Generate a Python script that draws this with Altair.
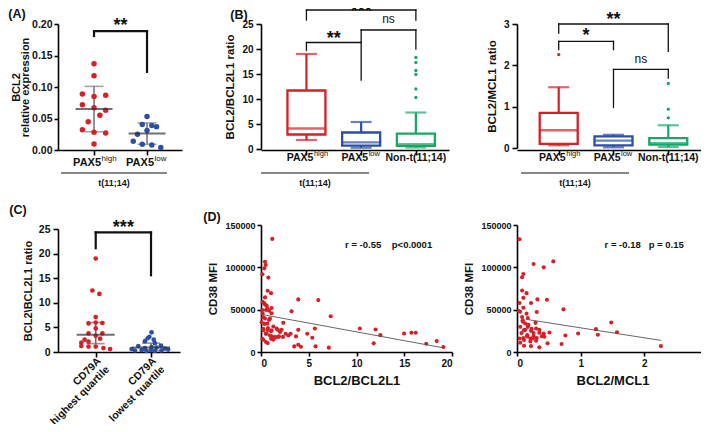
import altair as alt
import pandas as pd

FONT = "Liberation Sans"
RED = "#d71f28"
BLUE = "#2a4fa3"
GREEN = "#17a866"
INK = "#111111"

# ---------------- Panel A data ----------------
a_groups = ["PAX5 high", "PAX5 low"]
a_high = [0.137, 0.118, 0.089, 0.085, 0.087, 0.072, 0.067, 0.063, 0.055, 0.045, 0.032, 0.028, 0.027, 0.0095]
a_high_jitter = [0, 0, -0.22, 0, 0.22, -0.22, 0, 0.22, 0.11, -0.11, -0.22, 0, 0.22, 0]
a_low = [0.053, 0.0405, 0.039, 0.037, 0.031, 0.025, 0.014, 0.009, 0.008, 0.004]
a_low_jitter = [0, -0.09, 0.09, 0.18, 0, -0.18, -0.26, -0.09, 0.09, 0.26]
a_mid = [0.065, 0.026]
a_lo = [0.029, 0.009]
a_hi = [0.101, 0.043]
a_br_x1, a_br_x2 = [1], [2]
a_br_top, a_br_leg1, a_br_leg2 = [0.1886], [0.181], [0.124]
a_br_text, a_br_texty = ["**"], [0.2048]

# ---------------- Panel B data ----------------
b_groups = ["PAX5 high", "PAX5 low", "Non-t(11;14)"]
b1_lo = [1.8, 0.25, 0.3]
b1_q1 = [2.9, 0.67, 0.62]
b1_med = [4.1, 1.33, 0.95]
b1_q3 = [11.7, 3.3, 3.07]
b1_hi = [19.0, 5.4, 7.3]
b1_out_grp = [3, 3, 3, 3, 3, 3]
b1_out_val = [18.3, 17.3, 15.7, 14.9, 12.0, 10.3]
b1_br_x1, b1_br_x2 = [1, 1, 2], [3, 2, 3]
b1_br_top = [27.8, 21.3, 23.8]
b1_br_leg1 = [25.8, 19.7, 21.5]
b1_br_leg2 = [25.8, 13.8, 20.0]
b1_br_text = ["***", "**", "ns"]
b1_br_texty = [28.5, 23.1, 25.8]

b2_lo = [0.065, 0.016, 0.024]
b2_q1 = [0.10, 0.065, 0.08]
b2_med = [0.43, 0.18, 0.12]
b2_q3 = [0.85, 0.28, 0.24]
b2_hi = [1.47, 0.32, 0.55]
b2_out_grp = [1, 3, 3, 3]
b2_out_val = [2.26, 1.56, 0.94, 0.73]
b2_br_x1, b2_br_x2 = [1, 1, 2], [3, 2, 3]
b2_br_top = [3.0, 2.58, 1.9]
b2_br_leg1 = [2.78, 2.38, 0.98]
b2_br_leg2 = [2.34, 2.38, 1.69]
b2_br_text = ["**", "*", "ns"]
b2_br_texty = [3.22, 2.82, 2.12]

# ---------------- Panel C data ----------------
c_groups = ["CD79A highest quartile", "CD79A lowest quartile"]
c_high = [19.0, 12.5, 11.8, 7.1, 6.0, 5.8, 5.9, 4.8, 3.8, 3.8, 3.3, 2.7, 2.5, 2.1, 1.9, 1.1, 1.1, 0.8, 0.6, 1.2]
c_high_jitter = [0, -0.06, 0.066, 0, 0, -0.13, 0.12, 0, -0.13, 0.12, 0, 0.08, -0.2, -0.13, -0.26, -0.13, 0, 0.14, 0.26, -0.26]
c_low = [4.0, 3.1, 2.8, 2.5, 2.2, 1.8, 1.3, 1.2, 0.9, 0.8, 0.6, 0.5, 0.4, 0.4, 0.3, 0.3, 0.2, 0.2, 0.7, 1.0]
c_low_jitter = [0.01, -0.03, -0.06, 0.05, -0.11, 0.07, 0.18, -0.23, 0.1, -0.11, -0.35, 0.31, 0, -0.17, 0.19, -0.29, 0.07, -0.08, 0.25, 0.01]
c_mid = [3.5, 0.93]
c_lo = [1.7, 0.27]
c_hi = [6.0, 1.8]
c_br_x1, c_br_x2 = [1], [2]
c_br_top, c_br_leg1, c_br_leg2 = [24.3], [21.1], [15.6]
c_br_text, c_br_texty = ["***"], [26.3]

# ---------------- Panel D data ----------------
d1_x = [1.18, 0.42, 0.49, 0.35, 0.14, 0.77, 0.70, 1.05, 3.9, 6.0, 0.42, 0.35, 0.6, 1.11, 0.14, 0.52, 0.84, 3.2,
        1.11, 7.3, 0.24, 0.84, 0.07, 2.33, 1.29, 0.24, 1.74, 2.16, 3.9, 5.64, 10.35, 12.0, 0.70, 1.05, 2.58, 2.86,
        3.1, 3.66, 4.84, 5.37, 12.5, 14.98, 15.75, 16.2, 1.11, 1.46, 1.88, 0.24, 0.70, 1.05, 1.29, 3.48, 3.9, 4.18,
        5.71, 7.1, 11.8, 17.3, 18.4, 19.1, 0.14, 0.49, 0.35, 0.94,
        0.17, 0.42, 0.66, 0.17, 0.42, 0.66, 0.94, 1.1, 1.46, 0.59, 1.64, 1.99, 1.8, 2.3, 0.24, 0.52, 0.73]
d1_y = [133600, 106600, 102700, 98800, 91800, 87900, 72300, 69500, 62100, 61300, 64500, 57400, 54700, 52000,
        49600, 49600, 48800, 48000, 45700, 42200, 41000, 37900, 35200, 34400, 30100, 27300, 26200, 26200, 26200,
        27700, 27700, 26600, 26200, 24600, 21500, 19500, 21500, 18400, 21500, 16800, 19900, 21900, 22700, 22700,
        18400, 16800, 18400, 14500, 10500, 15600, 14500, 6600, 8600, 6200, 6600, 5100, 10200, 9800, 12900, 5900,
        15600, 21500, 33200, 19500,
        59200, 56000, 51300, 45400, 39500, 33500, 39500, 25700, 17800, 21700, 27600, 23700, 17800, 17800, 25700,
        11800, 28400]
d1_fit_x = [0, 19.1]
d1_fit_y = [44500, 4900]
d1_note = "r = -0.55\u00a0\u00a0\u00a0\u00a0p<0.0001"

d2_x = [0.04, 0.26, 0.57, 0.42, 0.10, 0.08, 0.08, 0.15, 0.10, 0.47, 0.32, 0.22, 0.04, 0.73, 0.10, 0.03, 0.31,
        0.15, 0.08, 0.17, 0.09, 0.29, 1.48, 1.24, 1.57, 1.27, 0.96, 0.76, 0.51, 0.42, 0.30, 0.22, 0.11, 0.05,
        0.16, 0.26, 0.35, 0.43, 0.04, 0.11, 0.21, 0.30, 0.39, 0.48, 0.70, 0.35, 0.22, 0.11, 2.26, 0.05, 0.17,
        0.25, 0.13,
        0.05, 0.09, 0.13, 0.16, 0.21, 0.26, 0.31, 0.10, 0.18, 0.23, 0.07, 0.35]
d2_y = [133200, 103900, 107000, 100000, 92200, 88300, 72700, 69500, 64000, 61700, 62100, 57800, 57800, 50400,
        52300, 48400, 47300, 45300, 41400, 40200, 37500, 34400, 34800, 27000, 23400, 20300, 21900, 19500, 23000,
        21900, 27700, 25000, 25800, 29700, 19900, 18700, 22700, 18000, 16000, 14100, 16000, 13300, 18700, 10200,
        9400, 5500, 7000, 7400, 7000, 10900, 29700, 16000, 33600,
        47600, 35900, 26200, 18400, 12500, 22300, 16400, 16400, 32000, 27300, 22300, 26200]
d2_fit_x = [0.15, 2.26]
d2_fit_y = [38500, 13700]
d2_note = "r = -0.18\u00a0\u00a0\u00a0p = 0.15"


# ---------------- helpers ----------------
def enc_factory(channel, scale, axis):
    def f(field):
        return channel(f"{field}:Q", scale=scale, axis=axis)
    return f


def cat_scale(domain, rng=None):
    kw = dict(domain=domain, nice=False, zero=False)
    if rng is not None:
        kw["range"] = rng
    return alt.Scale(**kw)


def cat_axis(vals):
    return alt.Axis(values=vals, labels=False, title=None, ticks=True, tickSize=5, grid=False)


def val_axis(vals, fmt, title, title_size=12, label_size=11, title_pad=4, label_pad=3, tick_size=5, line_h=None):
    kw = dict(values=vals, format=fmt, title=title, titleFontSize=title_size, labelFontSize=label_size,
              titlePadding=title_pad, labelPadding=label_pad, tickSize=tick_size, grid=False)
    if line_h is not None:
        kw["titleLineHeight"] = line_h
    return alt.Axis(**kw)


def dots(groups, vals, jits, colors, X, Y, size):
    rows = []
    for i, (g, vs, js) in enumerate(zip(groups, vals, jits)):
        for v, j in zip(vs, js):
            rows.append({"x": i + 1 + j, "y": v, "g": g})
    return alt.Chart(pd.DataFrame(rows)).mark_circle(size=size, opacity=1).encode(
        x=X("x"), y=Y("y"),
        color=alt.Color("g:N", scale=alt.Scale(domain=groups, range=colors), legend=None))


def mean_sd(n, mid, lo, hi, X, Y, sd_color, mean_color, mean_w, cap_w):
    st = pd.DataFrame({"x": list(range(1, n + 1)), "mid": mid, "lo": lo, "hi": hi})
    base = alt.Chart(st)
    return [
        base.mark_rule(color=sd_color, strokeWidth=1.6).encode(x=X("x"), y=Y("lo"), y2=alt.Y2("hi")),
        base.mark_tick(orient="horizontal", size=cap_w, thickness=1.6, color=sd_color).encode(x=X("x"), y=Y("lo")),
        base.mark_tick(orient="horizontal", size=cap_w, thickness=1.6, color=sd_color).encode(x=X("x"), y=Y("hi")),
        base.mark_tick(orient="horizontal", size=mean_w, thickness=2, color=mean_color).encode(x=X("x"), y=Y("mid")),
    ]


def brackets(x1s, x2s, tops, leg1s, leg2s, texts, textys, X, Y, lw, star_size=18):
    segs = []
    for a, b, t, l1, l2 in zip(x1s, x2s, tops, leg1s, leg2s):
        segs.append({"x": a, "x2": b, "y": t, "y2": t})
        segs.append({"x": a, "x2": a, "y": l1, "y2": t})
        segs.append({"x": b, "x2": b, "y": l2, "y2": t})
    layers = [alt.Chart(pd.DataFrame(segs)).mark_rule(color=INK, strokeWidth=lw, strokeCap="square").encode(
        x=X("x"), x2=alt.X2("x2"), y=Y("y"), y2=alt.Y2("y2"))]
    lab = pd.DataFrame({"x": [(a + b) / 2 for a, b in zip(x1s, x2s)], "y": textys, "t": texts})
    stars = lab[lab.t != "ns"]
    ns = lab[lab.t == "ns"]
    if len(stars):
        layers.append(alt.Chart(stars).mark_text(fontSize=star_size, fontWeight="bold", baseline="alphabetic",
                                                 dy=10, color=INK).encode(x=X("x"), y=Y("y"), text="t:N"))
    if len(ns):
        layers.append(alt.Chart(ns).mark_text(fontSize=12, baseline="alphabetic", dy=3, color=INK).encode(
            x=X("x"), y=Y("y"), text="t:N"))
    return layers


def letter(t, x, y):
    return alt.Chart(pd.DataFrame({"t": [t]})).mark_text(fontSize=12.5, fontWeight="bold", align="center",
                                                          baseline="middle", color=INK).encode(
        x=alt.value(x), y=alt.value(y), text="t:N")


def pax_labels(X, y_main, y_sup, main_size, sup_size, dx, with_non=False):
    df = pd.DataFrame({"x": [1, 2], "m": ["PAX5", "PAX5"], "s": ["high", "low"]})
    layers = [
        alt.Chart(df).mark_text(align="right", baseline="middle", dx=dx, fontSize=main_size, fontWeight="bold",
                                color=INK).encode(x=X("x"), y=alt.value(y_main), text="m:N"),
        alt.Chart(df).mark_text(align="left", baseline="middle", dx=dx + 0.5, fontSize=sup_size, color=INK).encode(
            x=X("x"), y=alt.value(y_sup), text="s:N"),
    ]
    if with_non:
        layers.append(alt.Chart(pd.DataFrame({"x": [3], "m": ["Non-t(11;14)"]})).mark_text(
            align="center", baseline="middle", fontSize=main_size, fontWeight="bold", color=INK).encode(
            x=X("x"), y=alt.value(y_main), text="m:N"))
    return layers


def t1114(x_from, x_to, y_line, y_text):
    d = pd.DataFrame({"t": ["t(11;14)"]})
    return [
        alt.Chart(d).mark_rule(color=INK, strokeWidth=1.2).encode(x=alt.value(x_from), x2=alt.value(x_to),
                                                                   y=alt.value(y_line)),
        alt.Chart(d).mark_text(fontSize=9, fontWeight="bold", baseline="middle", align="center",
                               color=INK).encode(x=alt.value((x_from + x_to) / 2), y=alt.value(y_text), text="t:N"),
    ]


def boxes(n, colors, lo, q1, med, q3, hi, out_g, out_v, X, Y, bw, cw):
    groups = b_groups[:n]
    st = pd.DataFrame({"x": list(range(1, n + 1)), "g": groups, "lo": lo, "q1": q1, "med": med, "q3": q3, "hi": hi})
    col = alt.Color("g:N", scale=alt.Scale(domain=groups, range=colors), legend=None)
    stroke = alt.Stroke("g:N", scale=alt.Scale(domain=groups, range=colors), legend=None)
    base = alt.Chart(st)
    outs = pd.DataFrame({"x": out_g, "y": out_v, "g": [groups[k - 1] for k in out_g]})
    return [
        base.mark_rule(strokeWidth=2.2).encode(x=X("x"), y=Y("lo"), y2=alt.Y2("q1"), color=col),
        base.mark_rule(strokeWidth=2.2).encode(x=X("x"), y=Y("q3"), y2=alt.Y2("hi"), color=col),
        base.mark_bar(size=bw, fill="white", strokeWidth=2.3).encode(x=X("x"), y=Y("q1"), y2=alt.Y2("q3"),
                                                                   stroke=stroke),
        base.mark_tick(orient="horizontal", size=bw, thickness=2.3).encode(x=X("x"), y=Y("med"), color=col),
        base.mark_tick(orient="horizontal", size=cw, thickness=2.2).encode(x=X("x"), y=Y("lo"), color=col),
        base.mark_tick(orient="horizontal", size=cw, thickness=2.2).encode(x=X("x"), y=Y("hi"), color=col),
        alt.Chart(outs).mark_circle(size=11, opacity=1).encode(x=X("x"), y=Y("y"), color=col),
    ]


# ---------------- Panel A ----------------
XA = enc_factory(alt.X, cat_scale([0.32, 2.66], [0, 124]), cat_axis([1, 2]))
YA = enc_factory(alt.Y, alt.Scale(domain=[0, 0.2], nice=False),
                 val_axis([0, 0.05, 0.1, 0.15, 0.2], ".2f", ["BCL2", "relative expression"], title_size=11,
                          label_size=10.5, title_pad=1, label_pad=2, tick_size=4, line_h=9.5))
pA = alt.layer(
    *mean_sd(2, a_mid, a_lo, a_hi, XA, YA, "#7a7a7a", "#333333", 37, 19)[:3],
    dots(a_groups, [a_high, a_low], [a_high_jitter, a_low_jitter], [RED, BLUE], XA, YA, 30),
    mean_sd(2, a_mid, a_lo, a_hi, XA, YA, "#7a7a7a", "#333333", 37, 19)[3],
    *brackets(a_br_x1, a_br_x2, a_br_top, a_br_leg1, a_br_leg2, a_br_text, a_br_texty, XA, YA, 2.2),
    *pax_labels(XA, 139, 135, 11, 8, 7),
    *t1114(3, 109, 149, 159),
    letter("(A)", -41, -10),
).properties(width=136, height=126)

# ---------------- Panel B left ----------------
XB1 = enc_factory(alt.X, cat_scale([0.261, 3.514], [0, 188]), cat_axis([1, 2, 3]))
YB1 = enc_factory(alt.Y, alt.Scale(domain=[0, 25], nice=False, range=[125, 0]),
                  val_axis([0, 5, 10, 15, 20, 25], "d", "BCL2/BCL2L1 ratio", title_size=11.5, label_size=10,
                           title_pad=6))
pB1 = alt.layer(
    *boxes(3, [RED, BLUE, GREEN], b1_lo, b1_q1, b1_med, b1_q3, b1_hi, b1_out_grp, b1_out_val, XB1, YB1, 38, 21),
    *brackets(b1_br_x1, b1_br_x2, b1_br_top, b1_br_leg1, b1_br_leg2, b1_br_text, b1_br_texty, XB1, YB1, 1.3),
    *pax_labels(XB1, 134, 130, 10.5, 7.5, 7, with_non=True),
    *t1114(0, 108, 149, 159),
    letter("(B)", -22, -9),
).properties(width=193, height=126)

# ---------------- Panel B right ----------------
XB2 = enc_factory(alt.X, cat_scale([0.33, 3.652]), cat_axis([1, 2, 3]))
YB2 = enc_factory(alt.Y, alt.Scale(domain=[0, 3], nice=False, range=[124, 0]),
                  val_axis([0, 1, 2, 3], "d", "BCL2/MCL1 ratio", title_size=11.5, label_size=10, title_pad=6))
pB2 = alt.layer(
    *boxes(3, [RED, BLUE, GREEN], b2_lo, b2_q1, b2_med, b2_q3, b2_hi, b2_out_grp, b2_out_val, XB2, YB2, 38, 21),
    *brackets(b2_br_x1, b2_br_x2, b2_br_top, b2_br_leg1, b2_br_leg2, b2_br_text, b2_br_texty, XB2, YB2, 1.3),
    *pax_labels(XB2, 134, 130, 10.5, 7.5, 7, with_non=True),
    *t1114(4, 112, 149, 159),
).properties(width=192, height=126)

# ---------------- Panel C ----------------
XC = enc_factory(alt.X, cat_scale([0.318, 2.524], [0, 122]), cat_axis([1, 2]))
YC = enc_factory(alt.Y, alt.Scale(domain=[0, 25], nice=False, range=[127, 4]),
                 val_axis([0, 5, 10, 15, 20, 25], "d", "BCL2\\BCL2L1 ratio", title_size=11, label_size=10.5,
                          title_pad=5))
c_lab = pd.DataFrame({"x": [1, 2], "t": ["CD79A\nhighest quartile", "CD79A\nlowest quartile"]})
pC = alt.layer(
    *mean_sd(2, c_mid, c_lo, c_hi, XC, YC, "#6a6a6a", "#333333", 38, 18)[:3],
    dots(c_groups, [c_high, c_low], [c_high_jitter, c_low_jitter], [RED, BLUE], XC, YC, 22),
    mean_sd(2, c_mid, c_lo, c_hi, XC, YC, "#6a6a6a", "#333333", 38, 18)[3],
    *brackets(c_br_x1, c_br_x2, c_br_top, c_br_leg1, c_br_leg2, c_br_text, c_br_texty, XC, YC, 2.2),
    alt.Chart(c_lab).mark_text(angle=315, align="right", baseline="top", lineBreak="\n", fontSize=10.5,
                               fontWeight="bold", lineHeight=12, color=INK).encode(
        x=XC("x"), y=alt.value(131), text="t:N"),
    letter("(C)", -40, -15),
).properties(width=140, height=127)


# ---------------- Panel D ----------------
def scatter(xs, ys, fx, fy, xdom, xvals, xtitle, note, note_x, lx):
    X = enc_factory(alt.X, alt.Scale(domain=xdom, nice=False, zero=False),
                    alt.Axis(values=xvals, format="d", title=xtitle, titleFontSize=13, labelFontSize=10,
                             tickSize=4, titlePadding=6, labelPadding=2, grid=False))
    Y = enc_factory(alt.Y, alt.Scale(domain=[0, 150000], nice=False),
                    alt.Axis(values=[0, 50000, 100000, 150000], format="d", title="CD38 MFI", titleFontSize=11.5,
                             labelFontSize=9, tickSize=4, titlePadding=6, labelPadding=2, grid=False))
    layers = [
        alt.Chart(pd.DataFrame({"x": xs, "y": ys})).mark_circle(size=17, opacity=1, color=RED).encode(
            x=X("x"), y=Y("y")),
        alt.Chart(pd.DataFrame({"x": fx, "y": fy})).mark_line(color="#555555", strokeWidth=0.9).encode(
            x=X("x"), y=Y("y")),
        alt.Chart(pd.DataFrame({"x": [note_x], "y": [126000], "t": [note]})).mark_text(
            align="left", baseline="middle", fontSize=9.5, fontWeight="bold", color=INK).encode(
            x=X("x"), y=Y("y"), text="t:N"),
    ]
    if lx:
        layers.append(letter(lx, -49, -8))
    return alt.layer(*layers).properties(width=191, height=127)


pD1 = scatter(d1_x, d1_y, d1_fit_x, d1_fit_y, [0, 20], [0, 5, 10, 15, 20], "BCL2/BCL2L1", d1_note, 8.8, "(D)")
pD2 = scatter(d2_x, d2_y, d2_fit_x, d2_fit_y, [0, 3], [0, 1, 2, 3], "BCL2/MCL1", d2_note, 1.375, None)

chart = alt.concat(
    pA, pB1, pB2, pC, pD1, pD2,
    columns=3, align="none", bounds="flush", spacing={"row": 75, "column": 63},
).resolve_scale(color="independent", stroke="independent").properties(
    autosize=alt.AutoSizeParams(type="none"),
    padding={"left": 50, "top": 16, "right": 643, "bottom": 400},
).configure(font=FONT).configure_view(stroke=None).configure_axis(
    domainColor="black", tickColor="black", domainWidth=1.6, tickWidth=1.6,
    labelFont=FONT, titleFont=FONT, labelFontWeight="bold", titleFontWeight="bold",
    labelColor=INK, titleColor=INK, grid=False,
)

chart.save("out.html", embed_options={"renderer": "svg", "actions": False})
